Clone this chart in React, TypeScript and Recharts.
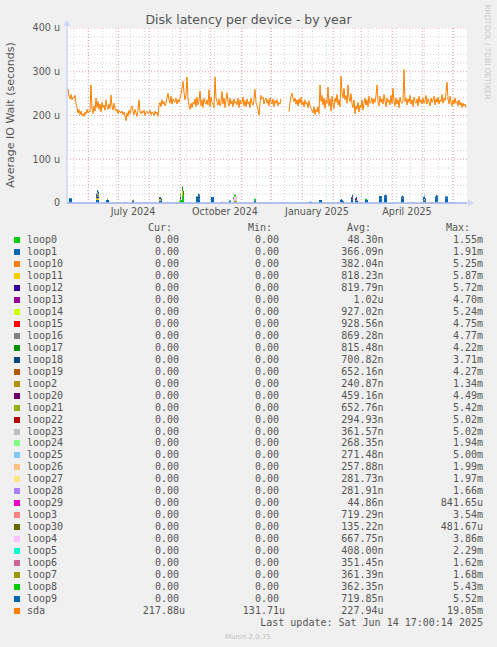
import React from "react";
import { ComposedChart, Line, Area, XAxis, YAxis, ReferenceLine } from "recharts";

// sda average IO wait (u = microseconds), one value per day starting 10 May 2024
const SDA: (number | null)[] = [
  252, 260, 244, 238, 248, 236, 242, 240, 246, 228,
  218, 206, 214, 202, 210, 200, 204, 198, 208, 203,
  214, 206, 210, 208, 270, 216, 204, 222, 210, 240,
  218, 232, 214, 226, 208, 230, 218, 224, 212, 236,
  220, 214, 226, 216, 247, 222, 212, 228, 216, 210,
  214, 204, 212, 208, 206, 210, 202, 208, 200, 188,
  206, 198, 212, 204, 216, 222, 210, 202, 214, 206,
  198, 212, 236, 208, 204, 210, 206, 212, 200, 208,
  210, 204, 206, 212, 202, 208, 206, 200, 210, 204,
  208, 198, 224, 230, 220, 236, 226, 232, 222, 228,
  240, 251, 236, 228, 244, 226, 238, 232, 230, 240,
  226, 236, 230, 240, 248, 262, 278, 252, 236, 248,
  288, 240, 222, 214, 228, 218, 230, 226, 238, 220,
  242, 224, 232, 256, 222, 236, 218, 240, 230, 226,
  236, 224, 259, 220, 242, 230, 226, 218, 288, 240,
  232, 224, 238, 222, 230, 255, 226, 240, 218, 236,
  252, 230, 222, 240, 226, 234, 220, 238, 228, 232,
  224, 240, 218, 236, 226, 230, 242, 222, 234, 220,
  238, 226, 232, 218, 240, 228, 224, 236, 260, 230,
  222, 214, 201, 230, 246, 238, 242, 226, 236, 240,
  228, 236, 222, 240, 232, 226, 238, 220, 234, 228,
  236, 222, 230, 226, 238, null, null, null, null, null,
  null, null, 209, 230, 244, 251, 238, 232, 240, 226,
  236, 222, 238, 228, 242, 224, 232, 220, 236, 226,
  230, 218, 234, 222, 216, 212, 206, 220, 202, 214,
  208, 220, 204, 270, 232, 246, 224, 240, 216, 236,
  228, 265, 222, 238, 210, 244, 226, 216, 240, 230,
  248, 224, 236, 220, 290, 252, 240, 262, 236, 246,
  228, 270, 240, 232, 250, 226, 218, 236, 204, 222,
  214, 230, 208, 224, 218, 236, 212, 228, 240, 224,
  236, 220, 244, 228, 232, 240, 226, 238, 230, 246,
  270, 232, 222, 244, 230, 238, 226, 248, 234, 220,
  240, 230, 236, 224, 246, 228, 262, 232, 222, 240,
  226, 236, 218, 242, 230, 228, 234, 305, 232, 240,
  224, 238, 230, 246, 226, 236, 220, 242, 232, 228,
  238, 222, 244, 230, 236, 226, 240, 228, 234, 246,
  226, 238, 232, 222, 240, 230, 236, 244, 224, 238,
  230, 242, 226, 236, 232, 248, 228, 240, 234, 252,
  276, 238, 226, 244, 230, 222, 236, 226, 240, 228,
  232, 222, 236, 224, 230, 218, 228, 222, 226, 218,
];

// sparse loop device spikes: [first day, number of days, value in u]
const EV_LOOP0: [number, number, number][] = [[113, 2, 7], [115, 2, 18], [162, 2, 3], [369, 2, 3]];
const EV_LOOP1: [number, number, number][] = [
  [2, 3, 7], [29, 3, 7], [39, 3, 7], [65, 2, 4], [92, 3, 6], [129, 4, 10], [144, 3, 9], [187, 2, 6],
  [252, 3, 7], [284, 2, 8], [288, 2, 6], [298, 3, 7], [312, 3, 10], [317, 3, 12], [334, 3, 10],
  [368, 3, 10], [378, 3, 10],
];
const EV_LOOP10: [number, number, number][] = [[100, 2, 2], [154, 2, 3], [255, 2, 2]];
const EV_LOOP11: [number, number, number][] = [[29, 3, 4], [92, 2, 3], [115, 1, 10], [356, 2, 3]];
const EV_LOOP12: [number, number, number][] = [[113, 1, 6], [270, 2, 2], [285, 1, 3], [318, 1, 3]];
const EV_LOOP13: [number, number, number][] = [[274, 1, 2], [285, 1, 2]];
const EV_LOOP15: [number, number, number][] = [[56, 2, 2], [289, 1, 3], [335, 1, 2], [363, 3, 2]];
const EV_LOOP17: [number, number, number][] = [[115, 2, 10], [174, 2, 2], [383, 2, 2]];
const EV_LOOP18: [number, number, number][] = [
  [29, 3, 4], [65, 2, 2], [92, 3, 4], [129, 4, 5], [273, 4, 4], [284, 2, 5], [288, 3, 5], [356, 3, 3],
];
const EV_LOOP19: [number, number, number][] = [[30, 1, 4]];
const EV_LOOP2: [number, number, number][] = [[30, 2, 5], [113, 1, 6], [357, 1, 3]];
const EV_LOOP21: [number, number, number][] = [[40, 1, 3], [66, 1, 2], [167, 3, 6]];
const EV_LOOP23: [number, number, number][] = [[219, 2, 1]];
const EV_LOOP24: [number, number, number][] = [[109, 3, 3]];
const EV_LOOP27: [number, number, number][] = [[199, 3, 2]];
const EV_LOOP4: [number, number, number][] = [[166, 4, 9]];
const EV_LOOP8: [number, number, number][] = [[112, 2, 4], [166, 3, 4], [187, 2, 4], [298, 2, 3]];
const EV_LOOP9: [number, number, number][] = [
  [2, 3, 4], [29, 3, 6], [131, 2, 6], [144, 3, 5], [161, 3, 3], [242, 3, 3], [273, 3, 3],
  [312, 3, 6], [317, 3, 6], [334, 3, 5], [356, 3, 8], [368, 3, 5], [378, 3, 5],
];

const LOOP_NAMES = [
  "loop0", "loop1", "loop10", "loop11", "loop12", "loop13", "loop14", "loop15", "loop16", "loop17",
  "loop18", "loop19", "loop2", "loop20", "loop21", "loop22", "loop23", "loop24", "loop25", "loop26",
  "loop27", "loop28", "loop29", "loop3", "loop30", "loop4", "loop5", "loop6", "loop7", "loop8", "loop9",
];
const NAMES = [...LOOP_NAMES, "sda"];
const COLORS = [
  "#00CC00", "#0066B3", "#FF8000", "#FFCC00", "#330099", "#990099", "#CCFF00", "#FF0000", "#808080", "#008F00",
  "#00487D", "#B35A00", "#B38F00", "#6B006B", "#8FB300", "#B30000", "#BEBEBE", "#80FF80", "#80C9FF", "#FFC080",
  "#FFE680", "#AA80FF", "#EE00CC", "#FF8080", "#666600", "#FFBFFF", "#00FFCC", "#CC6699", "#999900", "#00CC00",
  "#0066B3", "#FF8000",
];
const CUR = [
  "0.00 ", "0.00 ", "0.00 ", "0.00 ", "0.00 ", "0.00 ", "0.00 ", "0.00 ", "0.00 ", "0.00 ", "0.00 ",
  "0.00 ", "0.00 ", "0.00 ", "0.00 ", "0.00 ", "0.00 ", "0.00 ", "0.00 ", "0.00 ", "0.00 ", "0.00 ",
  "0.00 ", "0.00 ", "0.00 ", "0.00 ", "0.00 ", "0.00 ", "0.00 ", "0.00 ", "0.00 ", "217.88u",
];
const MIN = [
  "0.00 ", "0.00 ", "0.00 ", "0.00 ", "0.00 ", "0.00 ", "0.00 ", "0.00 ", "0.00 ", "0.00 ", "0.00 ",
  "0.00 ", "0.00 ", "0.00 ", "0.00 ", "0.00 ", "0.00 ", "0.00 ", "0.00 ", "0.00 ", "0.00 ", "0.00 ",
  "0.00 ", "0.00 ", "0.00 ", "0.00 ", "0.00 ", "0.00 ", "0.00 ", "0.00 ", "0.00 ", "131.71u",
];
const AVG = [
  "48.30n", "366.09n", "382.04n", "818.23n", "819.79n", "1.02u", "927.02n", "928.56n", "869.28n", "815.48n",
  "700.82n", "652.16n", "240.87n", "459.16n", "652.76n", "294.93n", "361.57n", "268.35n", "271.48n", "257.88n",
  "281.73n", "281.91n", "44.86n", "719.29n", "135.22n", "667.75n", "408.00n", "351.45n", "361.39n", "362.35n",
  "719.85n", "227.94u",
];
const MAX = [
  "1.55m", "1.91m", "5.25m", "5.87m", "5.72m", "4.70m", "5.24m", "4.75m", "4.77m", "4.22m",
  "3.71m", "4.27m", "1.34m", "4.49m", "5.42m", "5.02m", "5.02m", "1.94m", "5.00m", "1.99m",
  "1.97m", "1.66m", "841.65u", "3.54m", "481.67u", "3.86m", "2.29m", "1.62m", "1.68m", "5.43m",
  "5.52m", "19.05m",
];

const Y_TICKS = [0, 100, 200, 300, 400];
const Y_MINOR = [20, 40, 60, 80, 120, 140, 160, 180, 220, 240, 260, 280, 320, 340, 360, 380];
const X_TICKS = [66, 158, 250, 340];
const X_LABELS = ["July 2024", "October 2024", "January 2025", "April 2025"];
const MONTH_STARTS = [21.3, 51.3, 82.3, 113.3, 143.3, 174.3, 204.3, 235.3, 266.3, 294.3, 325.3, 355.3, 386.3];
const WEEK_LINES = [
  7.3, 21.3, 35.3, 49.3, 63.3, 77.3, 91.3, 105.3, 119.3, 133.3, 147.3, 161.3, 175.3, 189.3,
  203.3, 217.3, 231.3, 245.3, 259.3, 273.3, 287.3, 301.3, 315.3, 329.3, 343.3, 357.3, 371.3, 385.3,
];

const EVENTS: Record<string, [number, number, number][]> = {
  loop0: EV_LOOP0, loop1: EV_LOOP1, loop10: EV_LOOP10, loop11: EV_LOOP11, loop12: EV_LOOP12,
  loop13: EV_LOOP13, loop15: EV_LOOP15, loop17: EV_LOOP17, loop18: EV_LOOP18, loop19: EV_LOOP19,
  loop2: EV_LOOP2, loop21: EV_LOOP21, loop23: EV_LOOP23, loop24: EV_LOOP24, loop27: EV_LOOP27,
  loop4: EV_LOOP4, loop8: EV_LOOP8, loop9: EV_LOOP9,
};

const rows: Record<string, number | null>[] = SDA.map((v, day) => {
  const r: Record<string, number | null> = { day, sda: v };
  LOOP_NAMES.forEach((n) => (r[n] = 0));
  return r;
});
Object.keys(EVENTS).forEach((n) => {
  EVENTS[n].forEach(([d, len, v]) => {
    for (let k = 0; k < len; k++) if (rows[d + k]) rows[d + k][n] = v;
  });
});

const SANS = "'DejaVu Sans', Verdana, sans-serif";
const MONO = "'DejaVu Sans Mono', monospace";
const FONT_COLOR = "#555555";

export default function App() {
  const rowTop = (i: number) => 240 + 11.97 * i - 6;
  return (
    <div style={{ position: "absolute", left: 0, top: 0, width: 497, height: 647, background: "#F0F0F0", overflow: "hidden" }}>
      <div style={{ position: "absolute", left: 67, top: 28, width: 400, height: 175, background: "#FFFFFF" }} />
      <div style={{ position: "absolute", left: 0, top: 0 }}>
        <ComposedChart width={497} height={647} data={rows} margin={{ top: 28, right: 30, bottom: 424, left: 0 }}>
          {Y_MINOR.map((v) => (
            <ReferenceLine key={"ym" + v} y={v} stroke="#D4D4D4" strokeDasharray="1 2" ifOverflow="hidden" />
          ))}
          {WEEK_LINES.map((v) => (
            <ReferenceLine key={"xm" + v} x={v} stroke="#D4D4D4" strokeDasharray="1 2" ifOverflow="hidden" />
          ))}
          {MONTH_STARTS.map((v) => (
            <ReferenceLine key={"xM" + v} x={v} stroke="#E8A0A0" strokeDasharray="1 2" ifOverflow="hidden" />
          ))}
          {[100, 200, 300, 400].map((v) => (
            <ReferenceLine key={"yM" + v} y={v} stroke="#E8A0A0" strokeDasharray="1 2" ifOverflow="hidden" />
          ))}
          <XAxis
            dataKey="day"
            type="number"
            domain={[0, 400]}
            ticks={X_TICKS}
            tickFormatter={(v: number) => X_LABELS[X_TICKS.indexOf(v)] ?? ""}
            axisLine={false}
            tickLine={false}
            tickSize={0}
            tickMargin={5}
            height={20}
            interval={0}
            tick={{ fill: FONT_COLOR, fontSize: 9.6, fontFamily: SANS }}
            allowDataOverflow
          />
          <YAxis
            type="number"
            domain={[0, 400]}
            ticks={Y_TICKS}
            tickFormatter={(v: number) => (v === 0 ? "0" : `${v} u`)}
            axisLine={{ stroke: "#CFD6F8", strokeWidth: 1 }}
            tickLine={false}
            tickSize={0}
            tickMargin={7}
            width={67}
            interval={0}
            tick={{ fill: FONT_COLOR, fontSize: 9.6, fontFamily: SANS }}
            allowDataOverflow
          />
          {LOOP_NAMES.map((n) => (
            <Area
              key={n}
              dataKey={n}
              stackId="loops"
              type="stepAfter"
              stroke="none"
              fill={COLORS[NAMES.indexOf(n)]}
              fillOpacity={1}
              isAnimationActive={false}
              dot={false}
              activeDot={false}
            />
          ))}
          <ReferenceLine y={0} stroke="#8FA5E8" strokeWidth={1.5} />
          <Line
            dataKey="sda"
            type="linear"
            stroke="#FF8000"
            strokeWidth={1}
            dot={false}
            activeDot={false}
            isAnimationActive={false}
          />
        </ComposedChart>
      </div>
      <svg width={497} height={647} style={{ position: "absolute", left: 0, top: 0, pointerEvents: "none" }}>
        <line x1={64} y1={203} x2={468} y2={203} stroke="#CFD6F8" strokeWidth={1} opacity={0.6} />
        <polygon points="468,199.5 474,203 468,206.5" fill="#CFD6F8" />
        <line x1={67} y1={203} x2={67} y2={24} stroke="#CFD6F8" strokeWidth={1} />
        <polygon points="63.5,26 67,20 70.5,26" fill="#CFD6F8" />
        <text x={248.5} y={23.5} textAnchor="middle" fontFamily={SANS} fontSize={12.5} fill={FONT_COLOR}>
          Disk latency per device - by year
        </text>
        <text
          x={0}
          y={0}
          transform="translate(14,115) rotate(-90)"
          textAnchor="middle"
          fontFamily={SANS}
          fontSize={11}
          fill={FONT_COLOR}
        >
          Average IO Wait (seconds)
        </text>
        <text
          x={0}
          y={0}
          transform="translate(484.5,52) rotate(90)"
          textAnchor="middle"
          fontFamily={SANS}
          fontSize={7.4}
          fill="#C8C8C8"
        >
          RRDTOOL / TOBI OETIKER
        </text>
        <text x={248} y={638.5} textAnchor="middle" fontFamily={SANS} fontSize={7} fill="#C0C0C0">
          Munin 2.0.75
        </text>
      </svg>
      <div style={{ position: "absolute", left: 0, top: 0, width: 497, height: 647, fontFamily: MONO, fontSize: 10, color: FONT_COLOR, lineHeight: "12px", whiteSpace: "pre" }}>
        {[
          ["Cur:", 172],
          ["Min:", 272],
          ["Avg:", 371],
          ["Max:", 470],
        ].map(([t, r]) => (
          <div key={t as string} style={{ position: "absolute", top: 222, right: 497 - (r as number) }}>
            {t}
          </div>
        ))}
        {NAMES.map((n, i) => (
          <React.Fragment key={n}>
            <div style={{ position: "absolute", left: 14, top: rowTop(i) + 3, width: 6, height: 6, background: COLORS[i] }} />
            <div style={{ position: "absolute", left: 27, top: rowTop(i) }}>{n}</div>
            <div style={{ position: "absolute", right: 497 - 185, top: rowTop(i) }}>{CUR[i]}</div>
            <div style={{ position: "absolute", right: 497 - 285, top: rowTop(i) }}>{MIN[i]}</div>
            <div style={{ position: "absolute", right: 497 - 383.5, top: rowTop(i) }}>{AVG[i]}</div>
            <div style={{ position: "absolute", right: 497 - 483, top: rowTop(i) }}>{MAX[i]}</div>
          </React.Fragment>
        ))}
        <div style={{ position: "absolute", right: 497 - 483, top: 617 }}>Last update: Sat Jun 14 17:00:14 2025</div>
      </div>
    </div>
  );
}
